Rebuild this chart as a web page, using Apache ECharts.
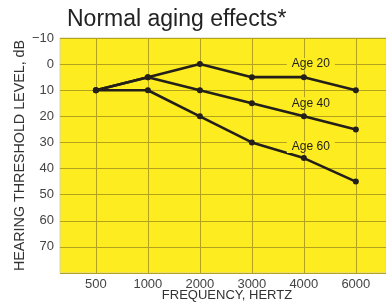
<!DOCTYPE html>
<html>
<head>
<meta charset="utf-8">
<script src="https://cdn.jsdelivr.net/npm/echarts@6/dist/echarts.min.js"></script>
<style>
  html, body { margin: 0; padding: 0; background: #fff; }
  #main { width: 386px; height: 305px; }
</style>
</head>
<body>
<div id="main"></div>
<script>
// frequency categories and hearing levels (dB)
const freqs = ['500', '1000', '2000', '3000', '4000', '6000']
const age20 = [10, 5, 0, 5, 5, 10]
const age40 = [10, 5, 10, 15, 20, 25]
const age60 = [10, 10, 20, 30, 36, 45]
const seriesNames = ['Age 20', 'Age 40', 'Age 60']
const yTicks = [-10, 0, 10, 20, 30, 40, 50, 60, 70]

const myChart = echarts.init(document.getElementById('main'))

const lineColor = '#231f1a'
const gridColor = '#b3a31c'
const yellow = '#fdec1f'
const font = 'Liberation Sans, Arial, Helvetica, sans-serif'

// label sits just above the 4000 Hz point
const labelDist = [4, 4, 2]

function makeSeries(name, values, k) {
    return {
        name: name,
        type: 'line',
        data: values.map((v, i) => {
            if (i !== 4) return [i, v]
            return {
                value: [i, v],
                label: {
                    show: true,
                    position: 'top',
                    distance: labelDist[k],
                    offset: [7, 0],
                    formatter: name,
                    color: '#222',
                    fontSize: 12,
                    fontFamily: font,
                    backgroundColor: yellow,
                    padding: [0, 5],
                },
            }
        }),
        symbol: 'circle',
        symbolSize: 6,
        itemStyle: { color: lineColor },
        lineStyle: { color: lineColor, width: 2.6 },
        animation: false,
        z: 3,
    }
}

const option = {
    backgroundColor: '#fff',
    animation: false,
    title: {
        text: 'Normal aging effects*',
        left: 62,
        top: 3,
        textStyle: {
            fontFamily: font,
            fontSize: 23,
            fontWeight: 'normal',
            color: '#222',
        },
    },
    grid: {
        left: 60,
        right: 0,
        top: 38,
        bottom: 32,
        outerBoundsMode: 'none',
        containLabel: false,
        show: true,
        backgroundColor: yellow,
        borderColor: '#d9d4b0',
        borderWidth: 1,
    },
    xAxis: {
        type: 'value',
        min: -0.69,
        max: 5.58,
        name: 'FREQUENCY, HERTZ',
        nameLocation: 'middle',
        nameGap: 16,
        nameMoveOverlap: false,
        nameTextStyle: {
            fontFamily: font,
            fontSize: 13,
            color: '#333',
            padding: [0, 0, 0, 8],
        },
        axisLine: { show: false },
        axisTick: { show: false, customValues: [0, 1, 2, 3, 4, 5] },
        axisLabel: {
            customValues: [0, 1, 2, 3, 4, 5],
            formatter: (v) => freqs[Math.round(v)],
            fontFamily: font,
            fontSize: 13,
            color: '#444',
            margin: 5,
        },
        splitLine: { show: true, lineStyle: { color: gridColor, width: 1 } },
    },
    yAxis: {
        type: 'value',
        inverse: true,
        min: -10,
        max: 80,
        interval: 10,
        name: 'HEARING THRESHOLD LEVEL, dB',
        nameLocation: 'middle',
        nameGap: 33,
        nameMoveOverlap: false,
        nameTextStyle: {
            fontFamily: font,
            fontSize: 14.3,
            color: '#333',
        },
        axisLine: { show: false },
        axisTick: { show: false },
        axisLabel: {
            formatter: (v) => {
                if (yTicks.indexOf(v) < 0) return ''
                return v < 0 ? '\u2212' + Math.abs(v) : String(v)
            },
            fontFamily: font,
            fontSize: 13,
            color: '#444',
            margin: 6,
        },
        splitLine: { show: true, lineStyle: { color: gridColor, width: 1 } },
    },
    series: [
        makeSeries(seriesNames[0], age20, 0),
        makeSeries(seriesNames[1], age40, 1),
        makeSeries(seriesNames[2], age60, 2),
    ],
}

myChart.setOption(option)
</script>
</body>
</html>
